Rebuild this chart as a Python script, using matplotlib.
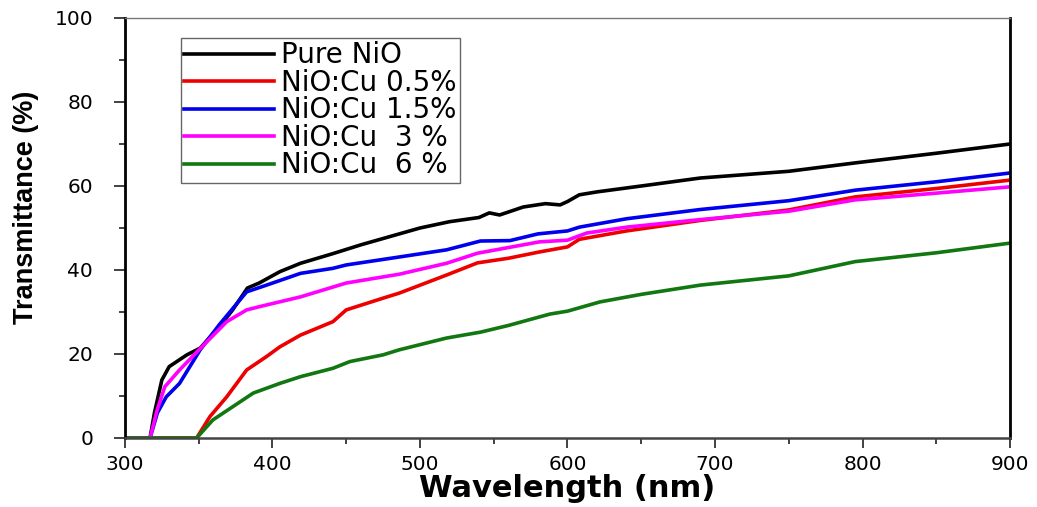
import matplotlib

matplotlib.use("Agg")

import matplotlib.pyplot as plt
from matplotlib.ticker import MultipleLocator

# wavelength (nm) / transmittance (%)
wl_pure = [300, 317, 320, 325, 330, 342, 351, 364, 373, 383, 391, 405, 419, 441,
           460, 480, 500, 520, 540, 547, 554, 570, 585, 595, 600, 608, 620, 650,
           690, 750, 795, 850, 900]
t_pure = [0, 0, 6, 13.8, 17, 19.8, 21.4, 26.5, 30.5, 35.7, 36.9, 39.6, 41.6, 43.9,
          46, 48, 50, 51.5, 52.5, 53.6, 53.1, 55, 55.8, 55.5, 56.3, 57.9, 58.6, 60,
          61.9, 63.5, 65.5, 67.8, 70]

wl_05 = [300, 348.6, 357.6, 369, 382.5, 396, 405, 419, 441, 450, 475, 486, 518,
         539, 560, 581, 600, 608, 640, 690, 750, 795, 850, 900]
t_05 = [0, 0, 5.1, 9.8, 16.2, 19.4, 21.7, 24.5, 27.7, 30.5, 33.3, 34.5, 38.8,
        41.7, 42.8, 44.3, 45.5, 47.3, 49.3, 51.8, 54.3, 57.4, 59.4, 61.4]

wl_15 = [300, 317, 322, 328, 337, 351, 364, 382.5, 396, 419, 441, 450, 486, 518,
         541, 561, 580, 600, 608, 640, 690, 750, 795, 850, 900]
t_15 = [0, 0, 6, 9.8, 13, 21, 27, 34.8, 36.4, 39.2, 40.4, 41.2, 43.1, 44.8,
        46.9, 47, 48.6, 49.3, 50.2, 52.2, 54.4, 56.5, 59, 61, 63.1]

wl_3 = [300, 317, 322, 327, 337, 351, 369, 382.5, 391.5, 419, 450, 486, 518, 539,
        581, 600, 613, 640, 690, 750, 795, 850, 900]
t_3 = [0, 0, 6.9, 12.2, 16.2, 21.3, 27.7, 30.5, 31.3, 33.6, 36.9, 39, 41.6, 44,
       46.7, 47.1, 48.8, 50.2, 52, 54, 56.7, 58.3, 59.8]

wl_6 = [300, 348.6, 359.6, 373.3, 387, 405, 419, 441, 452.5, 475, 486, 518, 541,
        560, 588, 600, 622, 650, 690, 750, 795, 850, 900]
t_6 = [0, 0, 4.3, 7.5, 10.7, 13, 14.6, 16.6, 18.2, 19.8, 21, 23.8, 25.2, 26.8,
       29.5, 30.2, 32.4, 34.2, 36.4, 38.6, 42, 44.1, 46.4]

series = [
    (wl_pure, t_pure, "black", "Pure NiO"),
    (wl_05, t_05, "#ee0000", "NiO:Cu 0.5%"),
    (wl_15, t_15, "#0000ee", "NiO:Cu 1.5%"),
    (wl_3, t_3, "#ff00ff", "NiO:Cu  3 %"),
    (wl_6, t_6, "#117711", "NiO:Cu  6 %"),
]

plt.rcParams["font.family"] = ["DejaVu Sans"]

fig = plt.figure(figsize=(10.37, 5.07), dpi=100)
ax = fig.add_axes([0.1205, 0.1361, 0.8535, 0.8284])

for x, y, c, lab in series:
    ax.plot(x, y, color=c, lw=2.6, label=lab, solid_joinstyle="round")

ax.set_xlim(300, 900)
ax.set_ylim(0, 100)
ax.xaxis.set_major_locator(MultipleLocator(100))
ax.xaxis.set_minor_locator(MultipleLocator(50))
ax.yaxis.set_major_locator(MultipleLocator(20))
ax.yaxis.set_minor_locator(MultipleLocator(10))
ax.tick_params(which="major", direction="out", length=8, width=1.3,
               labelsize=14.5, color="#333333")
ax.tick_params(which="minor", direction="out", length=4, width=1.3,
               color="#333333")
ax.tick_params(axis="x", which="major", length=7, pad=5)
ax.tick_params(axis="y", which="major", pad=15)

ax.spines["left"].set_linewidth(2)
ax.spines["right"].set_linewidth(2)
ax.spines["bottom"].set_linewidth(1.8)
ax.spines["bottom"].set_color("#444444")
ax.spines["top"].set_linewidth(1)
ax.spines["top"].set_color("#777777")

ax.set_xlabel("Wavelength (nm)", fontsize=22, fontweight="bold", labelpad=0)
ax.set_ylabel("Transmittance (%)", fontsize=19.5, fontweight="bold",
              family=["Liberation Sans", "DejaVu Sans"])
ax.yaxis.set_label_coords(-0.097, 0.55)

leg = ax.legend(loc="upper left", bbox_to_anchor=(0.063, 0.952), fontsize=20,
                handlelength=3.25, handletextpad=0.25, labelspacing=-0.02,
                borderpad=0.12, borderaxespad=0, fancybox=False,
                edgecolor="#666666", framealpha=1)
leg.get_frame().set_linewidth(1)

fig.savefig("out.png", dpi=100)
